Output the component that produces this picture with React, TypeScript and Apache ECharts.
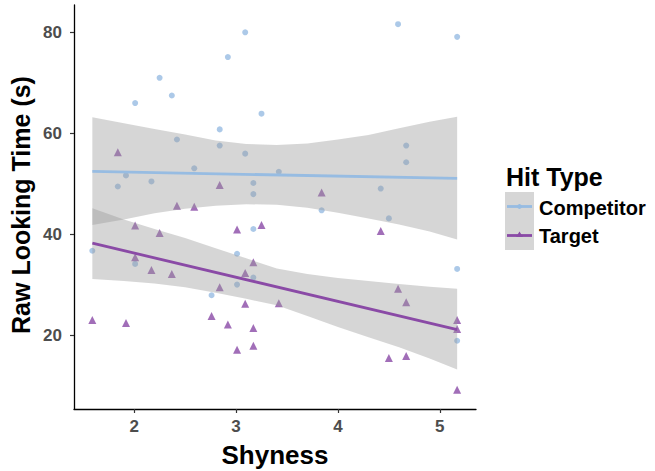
import React, { useEffect, useRef } from "react";
import * as echarts from "echarts";

// Shyness (x) and raw looking time (y) per hit type
const competitorX = [1.59, 1.84, 1.92, 2.01, 2.01, 2.17, 2.25, 2.37, 2.42, 2.59, 2.76, 2.84, 2.84, 2.92, 3.01, 3.01, 3.09, 3.09, 3.17, 3.17, 3.17, 3.17, 3.25, 3.42, 3.84, 4.42, 4.5, 4.59, 4.67, 4.67, 5.17, 5.17, 5.17];
const competitorY = [36.8, 49.5, 51.7, 66.0, 34.2, 50.5, 71.0, 67.5, 58.8, 53.1, 28.0, 60.8, 57.6, 75.1, 36.2, 30.1, 80.0, 56.0, 50.2, 48.0, 41.1, 31.5, 63.9, 52.4, 44.8, 49.1, 43.2, 81.6, 57.6, 54.3, 79.1, 33.2, 19.0];
const targetX = [1.59, 1.84, 1.92, 2.01, 2.01, 2.17, 2.25, 2.37, 2.42, 2.59, 2.76, 2.84, 2.84, 2.92, 3.01, 3.01, 3.09, 3.09, 3.17, 3.17, 3.17, 3.25, 3.42, 3.84, 4.42, 4.5, 4.59, 4.67, 4.67, 5.17, 5.17, 5.17];
const targetY = [23.1, 56.3, 22.5, 41.8, 35.5, 33.0, 40.3, 32.2, 45.7, 45.5, 23.9, 49.8, 29.6, 22.2, 41.0, 17.2, 32.4, 26.3, 34.5, 21.5, 18.0, 41.9, 26.4, 48.3, 40.7, 15.6, 29.3, 26.6, 16.0, 23.1, 21.3, 9.3];

// Fitted lines (endpoints)
const fitX = [1.59, 5.17];
const competitorFit = [52.5, 51.1];
const targetFit = [38.3, 21.2];

// Confidence bands
const bandX = [1.59, 1.9, 2.2, 2.5, 2.8, 3.1, 3.4, 3.7, 4.0, 4.3, 4.6, 4.9, 5.17];
const competitorUpper = [63.2, 62.0, 60.9, 59.8, 58.6, 57.9, 57.7, 58.0, 58.8, 59.7, 61.0, 62.3, 63.3];
const competitorLower = [41.9, 43.0, 44.2, 45.1, 45.7, 46.0, 45.9, 45.3, 44.3, 43.2, 42.0, 40.6, 39.0];
const targetUpper = [45.2, 43.0, 41.1, 39.3, 37.3, 35.3, 33.3, 32.2, 31.4, 30.8, 30.2, 29.7, 29.3];
const targetLower = [31.2, 30.8, 30.3, 29.6, 28.5, 27.3, 26.0, 23.9, 21.7, 19.7, 17.7, 15.5, 13.3];

const xTicks = [2, 3, 4, 5];
const yTicks = [20, 40, 60, 80];

const seriesNames = ["Competitor", "Target"];
const COMP = "#97bce2";
const TARG = "#8a4aa6";
const BAND = "rgba(153,153,153,0.4)";
const FONT = "'Liberation Sans', Arial, sans-serif";

function bandSeries(lower: number[], upper: number[]) {
  const data = bandX.map((x, i) => [x, lower[i], upper[i]]);
  return {
    type: "custom",
    silent: true,
    data,
    encode: { x: 0, y: [1, 2] },
    renderItem: (params: any, api: any) => {
      if (params.dataIndex !== 0) return null;
      const pts: number[][] = [];
      for (let i = 0; i < bandX.length; i++) pts.push(api.coord([bandX[i], upper[i]]));
      for (let i = bandX.length - 1; i >= 0; i--) pts.push(api.coord([bandX[i], lower[i]]));
      return { type: "polygon", shape: { points: pts }, style: { fill: BAND } };
    },
    z: 3,
  };
}

export default function App() {
  const ref = useRef<HTMLDivElement>(null);
  useEffect(() => {
    if (!ref.current) return;
    const chart = echarts.init(ref.current, undefined, { renderer: "svg" });
    const axisLabelStyle = { color: "#4d4d4d", fontWeight: "bold" as const, fontSize: 17, fontFamily: FONT };
    chart.setOption({
      animation: false,
      backgroundColor: "#ffffff",
      grid: { left: 74, right: 179, top: 5, bottom: 62 },
      xAxis: {
        type: "value",
        min: 1.41,
        max: 5.355,
        splitLine: { show: false },
        axisLine: { lineStyle: { color: "#000", width: 1.3 } },
        axisTick: { customValues: xTicks, length: 4, lineStyle: { color: "#333", width: 1.2 } },
        axisLabel: { customValues: xTicks, margin: 9, ...axisLabelStyle },
      },
      yAxis: {
        type: "value",
        min: 5.5,
        max: 85.4,
        splitLine: { show: false },
        axisLine: { show: true, lineStyle: { color: "#000", width: 1.3 } },
        axisTick: { show: true, customValues: yTicks, length: 4, lineStyle: { color: "#333", width: 1.2 } },
        axisLabel: { customValues: yTicks, margin: 12, ...axisLabelStyle },
      },
      series: [
        {
          name: seriesNames[0],
          type: "scatter",
          symbol: "circle",
          symbolSize: 6,
          itemStyle: { color: COMP },
          data: competitorX.map((x, i) => [x, competitorY[i]]),
          z: 2,
        },
        {
          name: seriesNames[1],
          type: "scatter",
          symbol: "triangle",
          symbolSize: 8,
          itemStyle: { color: TARG },
          data: targetX.map((x, i) => [x, targetY[i]]),
          z: 2,
        },
        bandSeries(competitorLower, competitorUpper),
        bandSeries(targetLower, targetUpper),
        {
          type: "line",
          showSymbol: false,
          data: fitX.map((x, i) => [x, competitorFit[i]]),
          lineStyle: { color: COMP, width: 2.8 },
          z: 4,
        },
        {
          type: "line",
          showSymbol: false,
          data: fitX.map((x, i) => [x, targetFit[i]]),
          lineStyle: { color: TARG, width: 2.8 },
          z: 4,
        },
      ],
      graphic: [
        {
          type: "text",
          x: 275,
          y: 455,
          style: { text: "Shyness", font: `bold 26px ${FONT}`, fill: "#000", textAlign: "center", textVerticalAlign: "middle" },
        },
        {
          type: "text",
          x: 21,
          y: 205,
          rotation: Math.PI / 2,
          style: { text: "Raw Looking Time (s)", font: `bold 25px ${FONT}`, fill: "#000", textAlign: "center", textVerticalAlign: "middle" },
        },
        {
          type: "text",
          x: 506,
          y: 177,
          style: { text: "Hit Type", font: `bold 25px ${FONT}`, fill: "#000", textAlign: "left", textVerticalAlign: "middle" },
        },
        { type: "rect", shape: { x: 505, y: 192, width: 29, height: 29 }, style: { fill: "#d6d6d6" } },
        { type: "rect", shape: { x: 505, y: 221, width: 29, height: 29 }, style: { fill: "#d6d6d6" } },
        { type: "line", shape: { x1: 507, y1: 206.5, x2: 532, y2: 206.5 }, style: { stroke: COMP, lineWidth: 2.8 } },
        { type: "circle", shape: { cx: 519.5, cy: 206.5, r: 2.4 }, style: { fill: COMP } },
        { type: "line", shape: { x1: 507, y1: 235.5, x2: 532, y2: 235.5 }, style: { stroke: TARG, lineWidth: 2.8 } },
        { type: "polygon", shape: { points: [[519.5, 231.5], [523, 237], [516, 237]] }, style: { fill: TARG } },
        {
          type: "text",
          x: 539,
          y: 208,
          style: { text: seriesNames[0], font: `bold 20px ${FONT}`, fill: "#000", textAlign: "left", textVerticalAlign: "middle" },
        },
        {
          type: "text",
          x: 539,
          y: 236,
          style: { text: seriesNames[1], font: `bold 20px ${FONT}`, fill: "#000", textAlign: "left", textVerticalAlign: "middle" },
        },
      ],
    });
    return () => chart.dispose();
  }, []);
  return <div ref={ref} style={{ position: "fixed", left: 0, top: 0, width: 655, height: 471 }} />;
}
